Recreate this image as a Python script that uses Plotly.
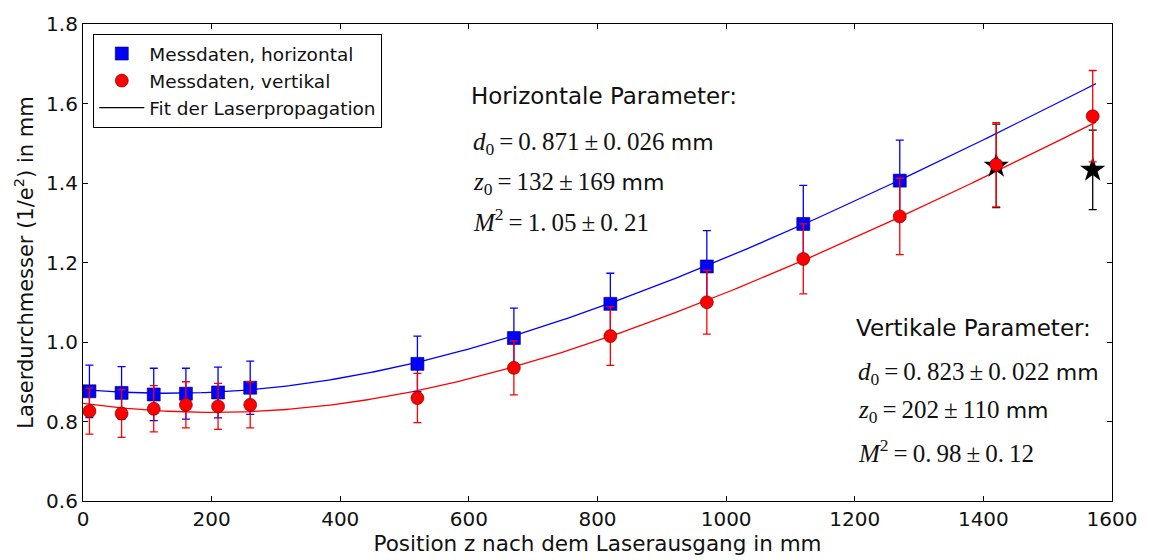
import numpy as np
import plotly.graph_objects as go

# ---- data ----
z_h = [10, 60, 110, 160, 210, 260, 520, 670, 820, 970, 1120, 1270]
d_h = [0.876, 0.872, 0.868, 0.870, 0.873, 0.885, 0.945, 1.010, 1.096, 1.190, 1.297, 1.406]
e_h = [0.066, 0.066, 0.066, 0.064, 0.064, 0.067, 0.070, 0.075, 0.077, 0.090, 0.097, 0.102]

z_v = [10, 60, 110, 160, 210, 260, 520, 670, 820, 970, 1120, 1270, 1420, 1570]
d_v = [0.826, 0.820, 0.832, 0.842, 0.838, 0.842, 0.859, 0.935, 1.015, 1.100, 1.209, 1.316, 1.446, 1.568]
e_v = [0.058, 0.060, 0.058, 0.058, 0.058, 0.058, 0.062, 0.068, 0.074, 0.080, 0.088, 0.096, 0.106, 0.115]

z_out = [1420, 1570]
d_out = [1.443, 1.433]
e_out = [0.105, 0.100]

# fit parameters (as printed on the chart)
lam = 632.8e-6  # mm
fit_h = dict(d0=0.871, z0=132, M2=1.05)
fit_v = dict(d0=0.823, z0=202, M2=0.98)

z_fit = np.linspace(0, 1575, 300)


def beam(z, d0, z0, M2):
    zr = np.pi * d0 ** 2 / (4 * M2 * lam)
    return d0 * np.sqrt(1 + ((z - z0) / zr) ** 2)


BLUE = "#0000ff"
RED = "#ff0000"
FONT = "DejaVu Sans, Liberation Sans, sans-serif"
MATH = "Liberation Serif, DejaVu Serif, serif"

fig = go.Figure()

fig.add_trace(go.Scatter(x=z_fit, y=beam(z_fit, **fit_h), mode="lines",
                         line=dict(color=BLUE, width=1.3), showlegend=False, hoverinfo="skip"))
fig.add_trace(go.Scatter(x=z_fit, y=beam(z_fit, **fit_v), mode="lines",
                         line=dict(color=RED, width=1.3), showlegend=False, hoverinfo="skip"))

fig.add_trace(go.Scatter(x=z_out, y=d_out, mode="markers", showlegend=False,
                         marker=dict(symbol="star", size=19, color="black"),
                         error_y=dict(type="data", array=e_out, color="black", thickness=1.3, width=4)))

fig.add_trace(go.Scatter(x=z_h, y=d_h, mode="markers", name="Messdaten, horizontal",
                         marker=dict(symbol="square", size=13, color=BLUE,
                                     line=dict(color="#000060", width=0.6)),
                         error_y=dict(type="data", array=e_h, color=BLUE, thickness=1.3, width=4)))
fig.add_trace(go.Scatter(x=z_v, y=d_v, mode="markers", name="Messdaten, vertikal",
                         marker=dict(symbol="circle", size=13, color=RED,
                                     line=dict(color="#600000", width=0.6)),
                         error_y=dict(type="data", array=e_v, color=RED, thickness=1.3, width=4)))
fig.add_trace(go.Scatter(x=[None], y=[None], mode="lines", name="Fit der Laserpropagation",
                         line=dict(color="black", width=1.3)))


def num(v):
    return v.replace(".", ".&#8201;")


def math_lines(p, errs):
    d0e, z0e, m2e = errs
    pm = "&#8201;±&#8201;"
    eq = "&#8201;=&#8201;"
    mm = " <span style='font-family:DejaVu Sans;font-size:22px'>mm</span>"
    return [
        f"<i>d</i><sub>0</sub>{eq}{num(f'{p['d0']:.3f}')}{pm}{num(f'{d0e:.3f}')}{mm}",
        f"<i>z</i><sub>0</sub>{eq}{p['z0']}{pm}{z0e}{mm}",
        f"<i>M</i><sup>2</sup>{eq}{num(f'{p['M2']:.2f}')}{pm}{num(f'{m2e:.2f}')}",
    ]


ann = []
ann.append(dict(x=600, y=1.618, text="Horizontale Parameter:", font=dict(family=FONT, size=23, color="#111")))
for txt, yy in zip(math_lines(fit_h, (0.026, 169, 0.21)), [1.500, 1.400, 1.306]):
    ann.append(dict(x=603, y=yy, text=txt, font=dict(family=MATH, size=25, color="#111")))
ann.append(dict(x=1199, y=1.036, text="Vertikale Parameter:", font=dict(family=FONT, size=23, color="#111")))
for txt, yy in zip(math_lines(fit_v, (0.022, 110, 0.12)), [0.922, 0.824, 0.727]):
    ann.append(dict(x=1202, y=yy, text=txt, font=dict(family=MATH, size=25, color="#111")))
for a in ann:
    a.update(xref="x", yref="y", xanchor="left", yanchor="middle", showarrow=False)

axis_common = dict(showgrid=False, zeroline=False, showline=True, linecolor="black", linewidth=1.2,
                   mirror="allticks", ticks="inside", ticklen=5, tickcolor="black",
                   tickfont=dict(family=FONT, size=20, color="#111"))

fig.update_layout(
    width=1149, height=560,
    margin=dict(l=83, r=33, t=22, b=57),
    paper_bgcolor="white", plot_bgcolor="white",
    font=dict(family=FONT, color="#111"),
    annotations=ann,
    legend=dict(x=0.01, y=0.979, xanchor="left", yanchor="top",
                bordercolor="black", borderwidth=1, bgcolor="white", itemwidth=45,
                font=dict(family=FONT, size=18.5, color="#111"), tracegroupgap=0),
    xaxis=dict(range=[0, 1600], dtick=200, tick0=0,
               title=dict(text="Position z nach dem Laserausgang in mm", standoff=2,
                          font=dict(family=FONT, size=21.5, color="#111")), **axis_common),
    yaxis=dict(range=[0.6, 1.8], dtick=0.2, tick0=0.6, tickformat=".1f",
               title=dict(text="Laserdurchmesser (1/e<sup>2</sup>) in mm", standoff=6,
                          font=dict(family=FONT, size=21, color="#111")), **axis_common),
)

fig.write_html("out.html")
